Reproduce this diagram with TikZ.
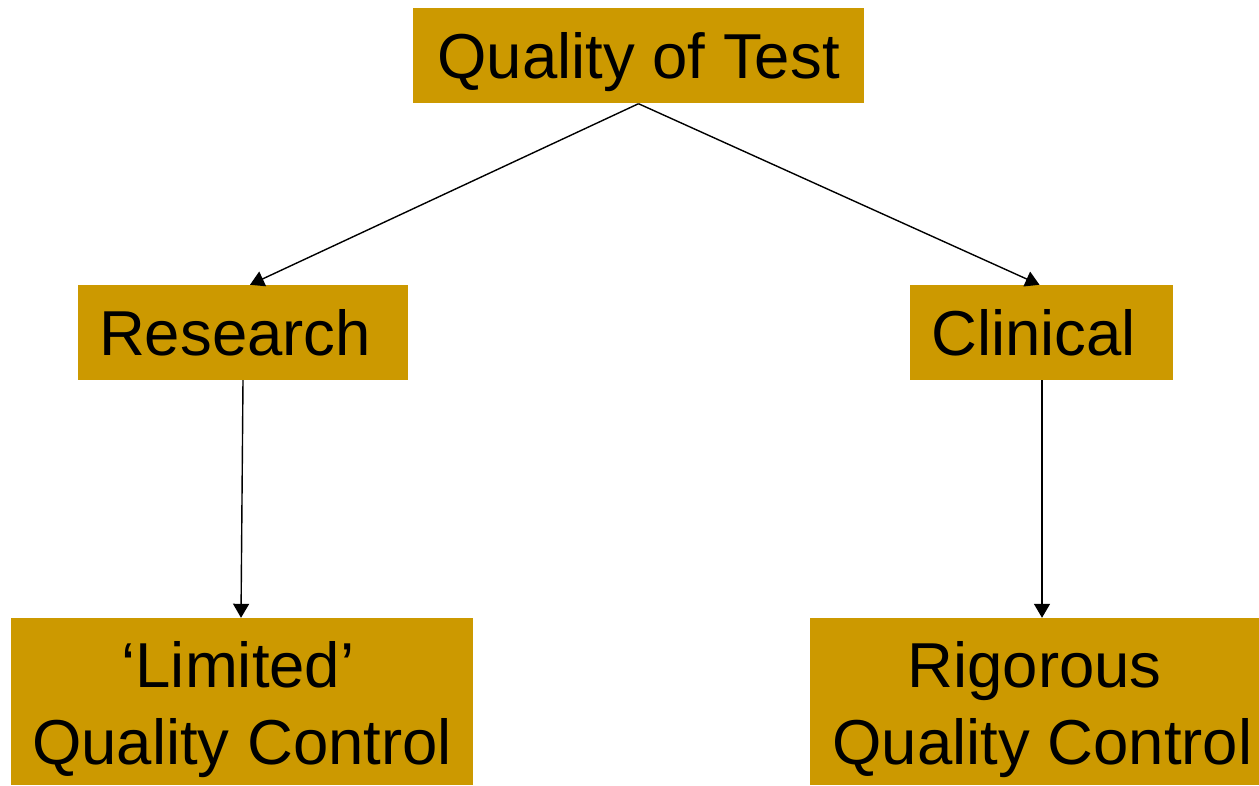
\documentclass[tikz,border=0pt]{standalone}
\usepackage{fontspec}
\setmainfont{Liberation Sans}
\usetikzlibrary{arrows.meta}
\definecolor{gold}{HTML}{CC9900}
\begin{document}
\begin{tikzpicture}[x=1pt,y=-1pt,
  box/.style={fill=gold, draw=none, inner sep=0pt, align=center,
    font=\fontsize{63.5}{77}\selectfont, text depth=0pt},
  single/.style={box, text height=45.5pt},
  conn/.style={line width=1.4pt, -{Triangle[length=14pt,width=16pt]}}]
\useasboundingbox (0,0) rectangle (1259,786);
\node[single, minimum width=451pt, minimum height=95pt] (top) at (638.5,56) {Quality of Test};
\node[single, minimum width=330pt, minimum height=95pt] (res) at (243,332.5) {Research\hspace*{16pt}};
\node[single, minimum width=263pt, minimum height=95pt] (cli) at (1041.5,332.5) {Clinical\hspace*{16pt}};
\node[box, minimum width=462pt, minimum height=167pt] (lim) at (242,701.5) {\raisebox{-2pt}{‘Limited’}\hspace*{8pt}\\\raisebox{-2pt}{Quality Control}};
\node[box, minimum width=449pt, minimum height=167pt] (rig) at (1034.5,701.5) {\raisebox{-2pt}{Rigorous}\\\hspace*{16pt}\raisebox{-2pt}{Quality Control}};
\draw[conn] (top.south) -- ([xshift=7pt]res.north);
\draw[conn] (top.south) -- ([xshift=-2pt]cli.north);
\draw[conn] (res.south) -- ([xshift=-1pt]lim.north);
\draw[conn] ([xshift=0.5pt]cli.south) -- ([xshift=7.5pt]rig.north);
\end{tikzpicture}
\end{document}
